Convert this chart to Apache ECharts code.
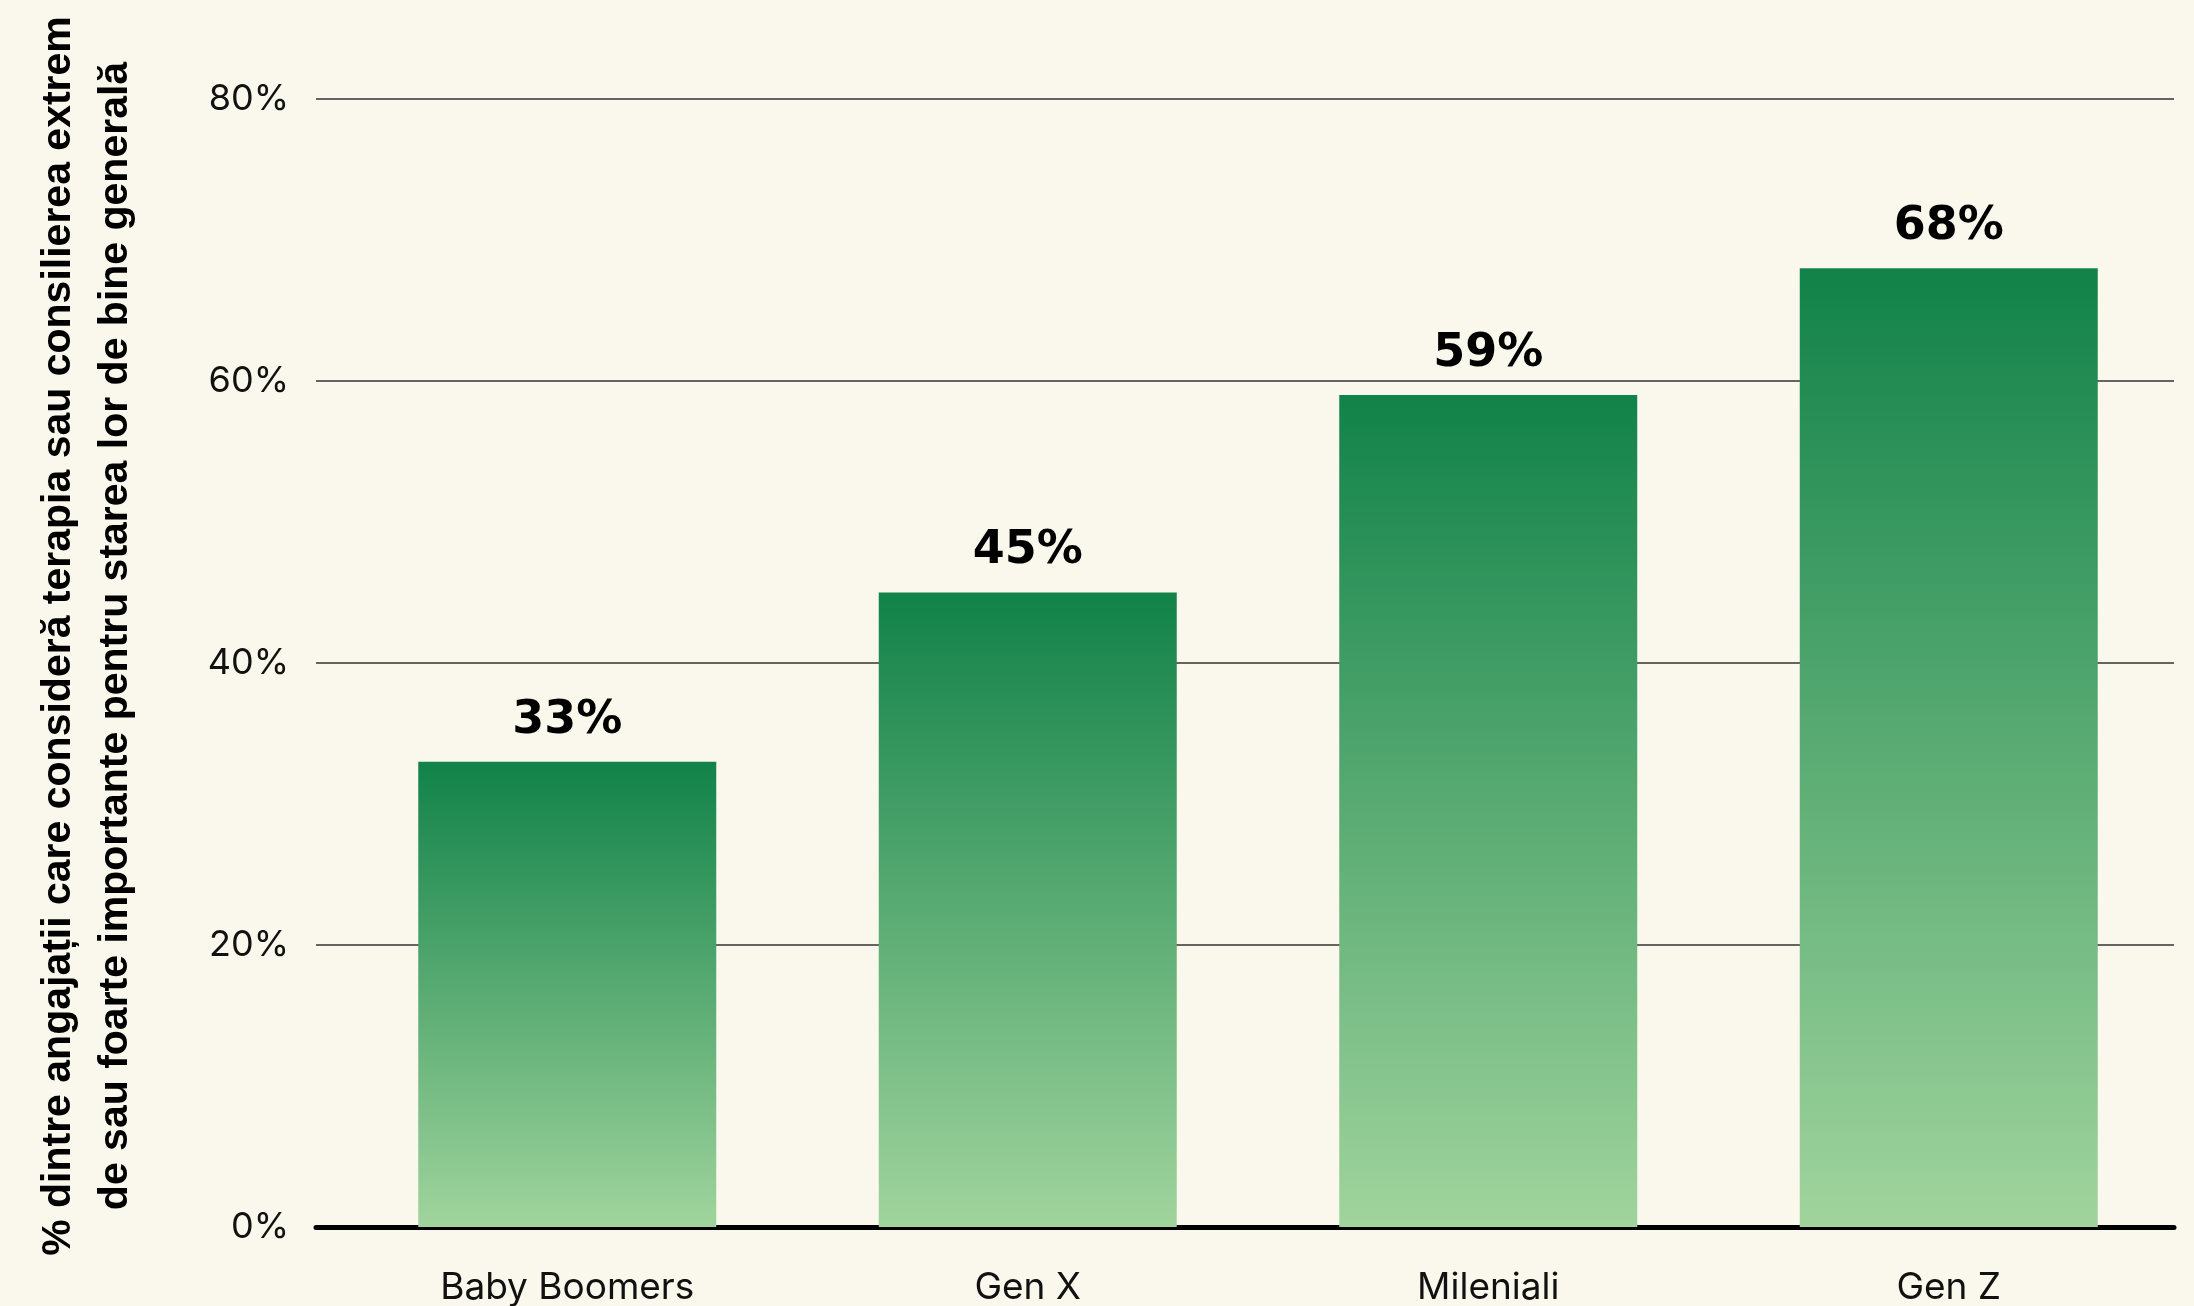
<!DOCTYPE html>
<html>
<head>
<meta charset="utf-8">
<title>Terapie și consiliere pe generații</title>
<script src="https://cdn.jsdelivr.net/npm/echarts@6/dist/echarts.min.js"></script>
<style>
  html, body { margin: 0; padding: 0; background: #FAF8EC; }
  #chart { width: 2194px; height: 1306px; }
</style>
</head>
<body>
<div id="chart"></div>
<script>
// Generations on the category axis
const categories = ['Baby Boomers', 'Gen X', 'Mileniali', 'Gen Z'];
// Share of employees (%) rating therapy/counselling as extremely or very important
const values = [33, 45, 59, 68];
// Value-axis ticks (%)
const yTicks = [0, 20, 40, 60, 80];
// Vertical axis title, one entry per line
const yTitleLines = [
  '% dintre angajații care consideră terapia sau consilierea extrem',
  'de sau foarte importante pentru starea lor de bine generală'
];

const yMin = yTicks[0];
const yMax = yTicks[yTicks.length - 1];
const yStep = yTicks[1] - yTicks[0];

const chart = echarts.init(document.getElementById('chart'), null, { renderer: 'canvas' });

const gridTop = 99;
const gridBottom = 79;

const barGradient = {
  type: 'linear', x: 0, y: 0, x2: 0, y2: 1,
  colorStops: [
    { offset: 0, color: '#118249' },
    { offset: 1, color: '#A1D49D' }
  ]
};

chart.setOption({
  backgroundColor: '#FAF8EC',
  animation: false,
  grid: [
    // frame for gridlines and baseline
    { left: 316, right: 20, top: gridTop, bottom: gridBottom },
    // frame for the bars and category labels
    { left: 337, right: 15, top: gridTop, bottom: gridBottom }
  ],
  xAxis: [
    {
      type: 'category', gridIndex: 0, data: categories,
      axisLine: { show: true, lineStyle: { color: '#000', width: 5 } },
      axisTick: { show: false },
      axisLabel: { show: false },
      splitLine: { show: false }
    },
    {
      type: 'category', gridIndex: 1, data: categories,
      axisLine: { show: false },
      axisTick: { show: false },
      axisLabel: {
        margin: 42,
        fontFamily: 'Inter',
        fontSize: 37,
        color: '#111'
      }
    }
  ],
  yAxis: [
    {
      type: 'value', gridIndex: 0,
      min: yMin, max: yMax, interval: yStep,
      axisLine: { show: false },
      axisTick: { show: false },
      axisLabel: {
        margin: 27,
        fontFamily: 'Inter',
        fontSize: 36,
        color: '#111',
        formatter: '{value}%'
      },
      splitLine: { show: true, lineStyle: { color: '#333', width: 1.5 } }
    },
    {
      type: 'value', gridIndex: 1,
      min: yMin, max: yMax, interval: yStep,
      show: false,
      splitLine: { show: false }
    }
  ],
  series: [
    {
      type: 'bar',
      xAxisIndex: 1,
      yAxisIndex: 1,
      data: values,
      barWidth: 298,
      itemStyle: { color: barGradient },
      label: {
        show: true,
        position: 'top',
        distance: 18,
        formatter: '{c}%',
        fontFamily: 'DejaVu Sans',
        fontWeight: 'bold',
        fontSize: 46,
        color: '#000'
      }
    }
  ],
  graphic: [
    {
      type: 'text',
      x: 87,
      y: 636,
      rotation: Math.PI / 2,
      style: {
        text: yTitleLines.join('\n'),
        fontFamily: 'Liberation Sans',
        fontWeight: 'bold',
        fontSize: 41,
        lineHeight: 57,
        fill: '#000',
        align: 'center',
        verticalAlign: 'middle'
      }
    }
  ]
});
</script>
</body>
</html>
